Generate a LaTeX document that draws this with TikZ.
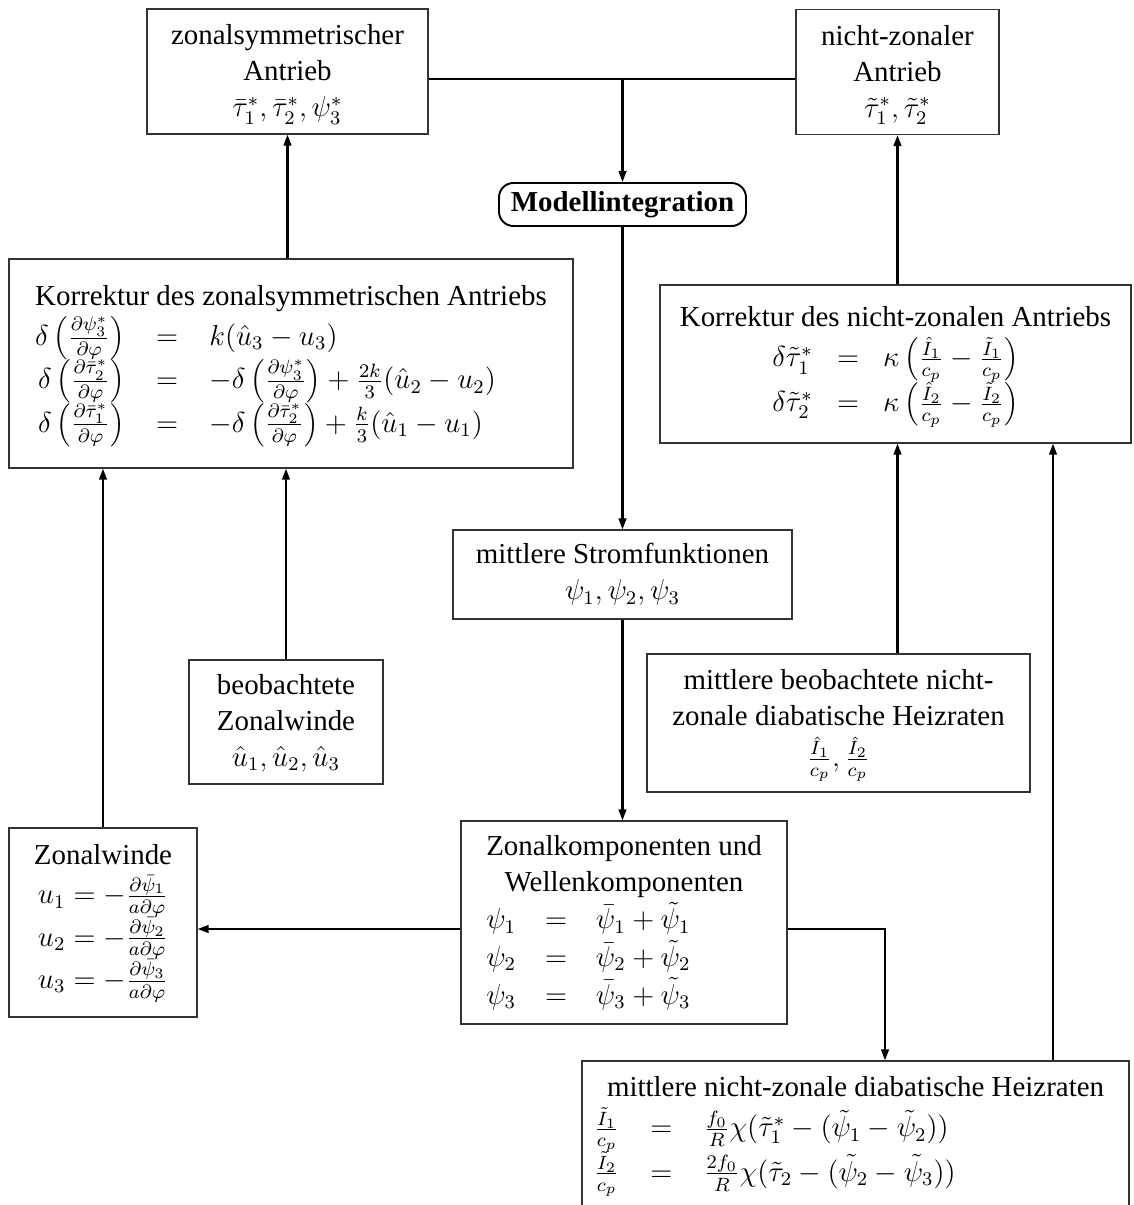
\documentclass[12pt,tikz,border=0pt]{standalone}
\usepackage[no-math]{fontspec}
\setmainfont{Liberation Serif}
\usetikzlibrary{arrows.meta}
\newdimen\pxu \pxu=0.415pt
\newcommand{\low}[2]{\raisebox{-#1\pxu}[\height][\depth]{#2}}
\newcommand{\bp}[1]{\left(\vrule height 11.5pt depth 5.5pt width 0pt #1\right)}
\tikzset{
  every node/.style={font=\fontsize{12}{15}\selectfont},
  bx/.style 2 args={draw=black!80, line width=0.5pt, minimum width=#1*0.415pt,
    minimum height=#2*0.415pt, inner sep=0pt, align=center},
  arr/.style={line width=0.9pt, -{Triangle[length=4.6pt,width=3.2pt]}},
  ln/.style={line width=0.9pt},
  rbox/.style={draw=black, line width=0.8pt, rounded corners=6pt,
    minimum width=247*0.415pt, minimum height=43*0.415pt, inner sep=0pt,
    font=\fontsize{12}{15}\selectfont\bfseries},
}
\begin{document}
\begin{tikzpicture}[x=0.415pt,y=-0.415pt]
\useasboundingbox (0,0) rectangle (1134,1205);

\node[bx={281}{125}] (A) at (287.5,71.5)
  {\low{2}{\begin{tabular}{@{}c@{}}zonalsymmetrischer\\Antrieb\\$\bar\tau_1^*, \bar\tau_2^*, \psi_3^*$\end{tabular}}};
\node[bx={203}{125}] (B) at (897.5,72)
  {\low{2}{\begin{tabular}{@{}c@{}}nicht-zonaler\\Antrieb\\$\tilde\tau_1^*, \tilde\tau_2^*$\end{tabular}}};
\node[rbox] (M) at (622.5,204.5) {Modellintegration};

\node[bx={564}{209}] (KZ) at (291,363.5) {\low{0}{\begin{tabular}{@{}l@{}}
  \multicolumn{1}{@{}c@{}}{Korrektur des zonalsymmetrischen Antriebs}\\
  $\begin{array}[t]{@{}r@{\hspace{13pt}}c@{\hspace{13pt}}l@{}}
  \delta\bp{\frac{\partial\psi_3^*}{\partial\varphi}} & = & k(\hat u_3-u_3)\\
  \delta\bp{\frac{\partial\bar\tau_2^*}{\partial\varphi}} & = &
    -\delta\bp{\frac{\partial\psi_3^*}{\partial\varphi}}+\frac{2k}{3}(\hat u_2-u_2)\\
  \delta\bp{\frac{\partial\bar\tau_1^*}{\partial\varphi}} & = &
    -\delta\bp{\frac{\partial\bar\tau_2^*}{\partial\varphi}}+\frac{k}{3}(\hat u_1-u_1)
  \end{array}$
  \end{tabular}}};

\node[bx={471}{158}] (KN) at (895.5,364) {\low{0}{\begin{tabular}{@{}c@{}}
  Korrektur des nicht-zonalen Antriebs\\
  $\begin{array}[t]{@{}r@{\hspace{10pt}}c@{\hspace{10pt}}l@{}}
  \delta\tilde\tau_1^* & = & \kappa\bp{\frac{\hat I_1}{c_p}-\frac{\tilde I_1}{c_p}}\\
  \delta\tilde\tau_2^* & = & \kappa\bp{\frac{\hat I_2}{c_p}-\frac{\tilde I_2}{c_p}}
  \end{array}$
  \end{tabular}}};

\node[bx={339}{89}] (S) at (622.5,574.5)
  {\low{0}{\begin{tabular}{@{}c@{}}mittlere Stromfunktionen\\$\psi_1, \psi_2, \psi_3$\end{tabular}}};

\node[bx={194}{124}] (BZ) at (286,722)
  {\low{1}{\begin{tabular}{@{}c@{}}beobachtete\\Zonalwinde\\$\hat u_1, \hat u_2, \hat u_3$\end{tabular}}};

\node[bx={383}{138}] (BN) at (838.5,723)
  {\low{0}{\begin{tabular}{@{}c@{}}mittlere beobachtete nicht-\\zonale diabatische Heizraten\\
   $\frac{\hat I_1}{c_p}, \frac{\hat I_2}{c_p}$\end{tabular}}};

\node[bx={188}{189}] (ZW) at (103,922.5) {\low{-2}{\begin{tabular}{@{}c@{}}
  Zonalwinde\\
  $\begin{array}[t]{@{}l@{}}
  u_1=-\frac{\partial\bar\psi_1}{a\partial\varphi}\\
  u_2=-\frac{\partial\bar\psi_2}{a\partial\varphi}\\
  u_3=-\frac{\partial\bar\psi_3}{a\partial\varphi}
  \end{array}$
  \end{tabular}}};

\node[bx={326}{203}] (ZK) at (624,922.5) {\low{0}{\begin{tabular}{@{}l@{}}
  \multicolumn{1}{@{}c@{}}{Zonalkomponenten und}\\
  \multicolumn{1}{@{}c@{}}{Wellenkomponenten}\\
  $\begin{array}[t]{@{}l@{\hspace{12pt}}c@{\hspace{12pt}}l@{}}
  \psi_1 & = & \bar\psi_1+\tilde\psi_1\\
  \psi_2 & = & \bar\psi_2+\tilde\psi_2\\
  \psi_3 & = & \bar\psi_3+\tilde\psi_3
  \end{array}$
  \end{tabular}}};

\node[bx={547}{170}] (H) at (855.5,1146) {};
\node[anchor=north, inner sep=0pt] (Ht) at (855.5,1071) {\begin{tabular}{@{}l@{}}
  \multicolumn{1}{@{}c@{}}{mittlere nicht-zonale diabatische Heizraten}\\
  \hspace*{-5.4pt}$\begin{array}[t]{@{}l@{\hspace{13pt}}c@{\hspace{13pt}}l@{}}
  \frac{\tilde I_1}{c_p} & = & \frac{f_0}{R}\chi(\tilde\tau_1^*-(\tilde\psi_1-\tilde\psi_2))\\
  \frac{\tilde I_2}{c_p} & = & \frac{2f_0}{R}\chi(\tilde\tau_2-(\tilde\psi_2-\tilde\psi_3))
  \end{array}$
  \end{tabular}};

% connectors
\coordinate (j) at (622.5,79);
\coordinate (r) at (885,929);
\coordinate (hx) at (1053,0);
\draw[ln] (A.east |- j) -- (B.west |- j);
\draw[arr] (j) -- (M.north);
\draw[arr] (M.south) -- (S.north);
\draw[arr] (S.south) -- (S.south |- ZK.north);
\draw[arr] (KZ.north -| A.south) -- (A.south);
\draw[arr] (KN.north -| B.south) -- (B.south);
\draw[arr] (BZ.north) -- (BZ.north |- KZ.south);
\draw[arr] (ZW.north) -- (ZW.north |- KZ.south);
\draw[arr] (ZK.west |- r) -- (ZW.east |- r);
\draw[arr] (ZK.east |- r) -| (H.north -| r);
\draw[arr] (BN.north -| B.south) -- (KN.south -| B.south);
\draw[arr] (H.north -| hx) -- (KN.south -| hx);
\end{tikzpicture}
\end{document}
